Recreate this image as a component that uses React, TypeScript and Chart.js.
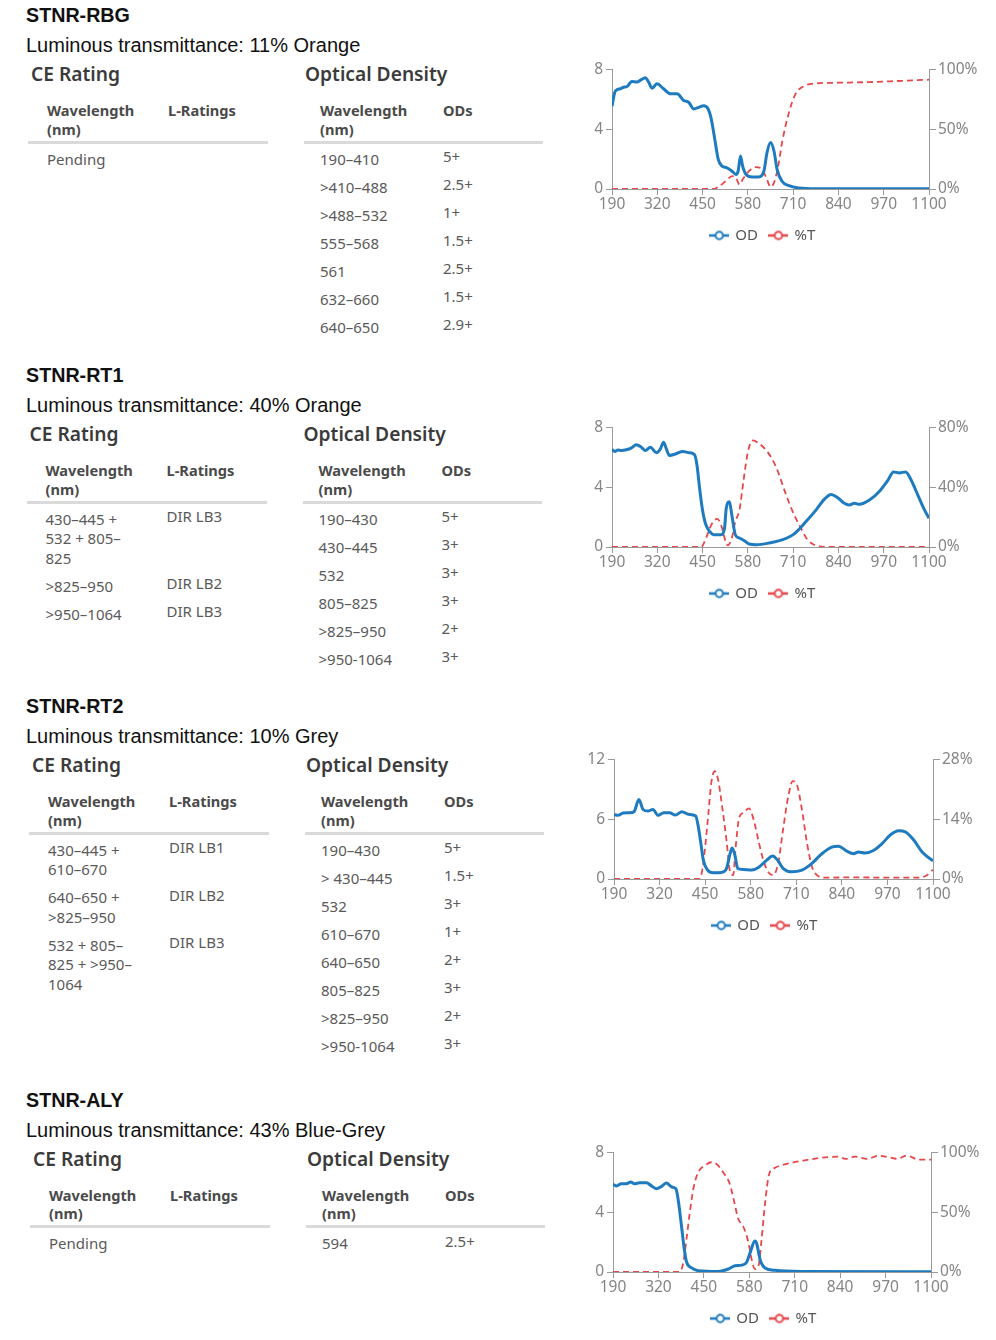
import React, { useEffect, useRef } from "react";
import { Chart, registerables } from "chart.js";

Chart.register(...registerables);

// ---------------- DATA ----------------
const xTickValues = [190, 320, 450, 580, 710, 840, 970, 1100];

// STNR-RBG
const rbgOdWavelengths = [190,198,204,214,223,233,247,262,271,286,295,305,319,338,358,377,396,410,425,439,453,466,475,485,495,506,520,535,546,552,559,565,575,592,611,626,635,645,655,664,678,698,726,784,900,1100];
const rbgOdValues = [5.53,6.47,6.63,6.7,6.8,6.85,7.19,7.15,7.26,7.44,7.15,6.74,7.03,6.7,6.36,6.36,5.91,5.8,5.35,5.46,5.57,5.35,4.67,3.33,1.98,1.53,1.42,1.19,0.97,1.19,2.2,1.53,0.97,0.81,0.81,1.19,2.43,3.1,2.54,1.3,0.52,0.22,0.07,0.02,0.01,0.01];
const rbgTWavelengths = [190,482,497,516,535,546,556,565,583,602,621,635,645,655,667,680,698,717,741,774,841,928,1023,1100];
const rbgTValues = [0,0,2.2,6.5,10.7,9.3,3.7,7.9,14.9,18.3,16.3,7.9,1.7,5.1,19.1,41.6,64,79.5,86,88.2,88.8,89.3,90.4,91.3];

// STNR-RT1
const rt1OdWavelengths = [190,198,207,217,231,245,260,274,286,300,317,329,338,346,355,374,393,412,427,434,441,449,458,470,484,503,513,518,527,534,544,556,570,584,603,642,680,713,747,776,800,819,838,857,871,886,900,929,958,982,998,1015,1033,1049,1068,1087,1100];
const rt1OdValues = [6.52,6.39,6.48,6.45,6.5,6.61,6.83,6.67,6.45,6.67,6.3,6.56,7.0,6.56,6.12,6.23,6.39,6.3,6.17,5.46,4.02,2.59,1.59,1.04,0.82,0.82,1.26,2.59,3.03,2.14,0.82,0.6,0.42,0.2,0.15,0.27,0.49,0.88,1.7,2.48,3.2,3.51,3.29,2.92,2.81,2.92,2.85,3.14,3.73,4.46,5.02,4.95,5.02,4.46,3.47,2.48,1.92];
const rt1TWavelengths = [190,446,460,475,492,503,516,522,534,544,556,567,580,594,613,637,661,690,713,735,751,776,804,1100];
const rt1TValues = [0,0,6,14.8,18.8,14.8,3.8,1.1,6,17,24.8,43.5,63.4,71.2,69,63.4,53.5,34.7,21.4,11.5,4.9,0.9,0,0];

// STNR-RT2
const rt2OdWavelengths = [190,201,216,235,247,261,273,287,301,316,332,349,365,384,402,423,430,438,445,457,473,497,511,521,527,535,543,559,583,602,625,643,657,673,697,726,754,783,811,830,854,873,887,906,930,954,978,1002,1021,1045,1069,1100];
const rt2OdValues = [6.48,6.38,6.61,6.64,6.74,7.96,6.97,6.81,6.97,6.38,6.64,6.64,6.41,6.74,6.48,6.31,5.33,3.52,1.87,0.89,0.62,0.66,1.05,2.53,3.12,2.37,1.05,0.95,0.89,1.15,1.87,2.3,1.87,1.05,0.72,0.89,1.55,2.53,3.19,3.29,2.79,2.53,2.7,2.6,2.86,3.52,4.41,4.83,4.73,3.91,2.7,1.81];
const rt2TWavelengths = [190,430,440,449,459,468,478,487,499,511,521,530,537,547,559,575,588,602,616,631,645,659,673,688,700,712,726,741,755,769,793,869,964,1059,1083,1100];
const rt2TValues = [0,0,1.3,6.7,15.1,22.8,25.2,23.2,16.6,9,1.7,0.9,7.4,14.3,15.5,16.5,14,9,4.4,1.5,0.9,4,12,19.7,22.9,22,16.3,8.2,2.8,0.9,0.3,0.4,0.3,0.3,0.9,2.2];

// STNR-ALY
const alyOdWavelengths = [190,200,214,228,241,252,266,286,298,314,329,343,358,370,376,384,393,400,415,434,491,520,539,558,572,582,596,601,611,625,654,730,1100];
const alyOdValues = [5.86,5.75,5.9,5.9,6.01,5.9,5.97,5.97,5.79,5.57,5.72,5.94,5.68,5.57,4.91,3.47,1.7,0.71,0.27,0.09,0.04,0.2,0.42,0.46,0.64,1.26,2.08,1.92,0.82,0.27,0.11,0.04,0.01];
const alyTWavelengths = [190,380,391,400,410,421,434,453,472,486,505,524,538,548,563,577,587,596,606,615,625,637,653,687,735,797,836,855,883,917,950,979,1003,1031,1065,1100];
const alyTValues = [0,0,7.5,26.8,50.3,71,83.4,88.9,91.7,90.3,83.4,73.7,57.2,44.7,37.8,25.4,10.2,2.5,4.7,26.8,57.2,82,87,90.3,93.1,95.8,96.4,94.5,96.4,94.5,97.2,95.8,94.5,97.2,93.9,93.9];

const odTicksEight = [0, 4, 8];
const odTicksTwelve = [0, 6, 12];
const tTicksHundred = [0, 50, 100];
const tTicksEighty = [0, 40, 80];
const tTicksTwentyEight = [0, 14, 28];

const seriesLabels = ["OD", "%T"];

// Text content
const sectionTitles = ["STNR-RBG", "STNR-RT1", "STNR-RT2", "STNR-ALY"];
const sectionSubtitles = [
  "Luminous transmittance: 11% Orange",
  "Luminous transmittance: 40% Orange",
  "Luminous transmittance: 10% Grey",
  "Luminous transmittance: 43% Blue-Grey",
];
const ceHeading = "CE Rating";
const odHeading = "Optical Density";
const wavelengthHeader = ["Wavelength", "(nm)"];
const lRatingsHeader = "L-Ratings";
const odsHeader = "ODs";

const ceWavelengthRows = [
  [["Pending"]],
  [["430–445 +", "532 + 805–", "825"], [">825–950"], [">950–1064"]],
  [["430–445 +", "610–670"], ["640–650 +", ">825–950"], ["532 + 805–", "825 + >950–", "1064"]],
  [["Pending"]],
];
const ceLRatings = [
  [""],
  ["DIR LB3", "DIR LB2", "DIR LB3"],
  ["DIR LB1", "DIR LB2", "DIR LB3"],
  [""],
];
const odWavelengthRows = [
  ["190–410", ">410–488", ">488–532", "555–568", "561", "632–660", "640–650"],
  ["190–430", "430–445", "532", "805–825", ">825–950", ">950-1064"],
  ["190–430", "> 430–445", "532", "610–670", "640–650", "805–825", ">825–950", ">950-1064"],
  ["594"],
];
const odRatingValues = [
  ["5+", "2.5+", "1+", "1.5+", "2.5+", "1.5+", "2.9+"],
  ["5+", "3+", "3+", "3+", "2+", "3+"],
  ["5+", "1.5+", "3+", "1+", "2+", "3+", "2+", "3+"],
  ["2.5+"],
];

const chartSpecs = [
  { odWl: rbgOdWavelengths, od: rbgOdValues, tWl: rbgTWavelengths, t: rbgTValues, odTicks: odTicksEight, tTicks: tTicksHundred },
  { odWl: rt1OdWavelengths, od: rt1OdValues, tWl: rt1TWavelengths, t: rt1TValues, odTicks: odTicksEight, tTicks: tTicksEighty },
  { odWl: rt2OdWavelengths, od: rt2OdValues, tWl: rt2TWavelengths, t: rt2TValues, odTicks: odTicksTwelve, tTicks: tTicksTwentyEight },
  { odWl: alyOdWavelengths, od: alyOdValues, tWl: alyTWavelengths, t: alyTValues, odTicks: odTicksEight, tTicks: tTicksHundred },
];

// ---------------- LAYOUT / STYLE ----------------
const sectionLayouts = [
  { top: 15, dx: 0 },
  { top: 375, dx: -1.5 },
  { top: 706, dx: 1 },
  { top: 1099.5, dx: 2 },
];
const chartBoxes = [
  { left: 612, top: 69, width: 317 },
  { left: 612, top: 427, width: 317 },
  { left: 614, top: 759, width: 319 },
  { left: 613, top: 1152, width: 318 },
];
const AREA_H = 120;
const LEFT_AXIS_W = 30;
const RIGHT_AXIS_W = 56;
const PAD_TOP = 12;
const X_AXIS_H = 27;
const LEGEND_PAD = 12;
const LEGEND_FONT = 15;
const LEGEND_H = LEGEND_FONT + LEGEND_PAD + 10;
const LEGEND_CENTER_OFFSET = 151;

const BLUE = "#1f7bc0";
const RED = "#e8474a";
const AXIS_GREY = "#9a9a9a";
const TICK_GREY = "#858585";
const UI_FONT = "'Noto Sans', 'Open Sans', sans-serif";
const HEAD_FONT = "'Liberation Sans', Arial, sans-serif";

const titleStyle: React.CSSProperties = { fontFamily: HEAD_FONT, fontWeight: 700, fontSize: 19.7, color: "#111" };
const subtitleStyle: React.CSSProperties = { fontFamily: HEAD_FONT, fontWeight: 400, fontSize: 20, color: "#111" };
const h2Style: React.CSSProperties = { fontFamily: UI_FONT, fontWeight: 600, fontSize: 19.2, color: "#3b3b3b" };
const headStyle: React.CSSProperties = { fontFamily: UI_FONT, fontWeight: 700, fontSize: 14.6, color: "#4a4a4a" };
const bodyStyle: React.CSSProperties = { fontFamily: UI_FONT, fontWeight: 400, fontSize: 15, color: "#5a5a5a" };

function Txt({ x, y, text, style }: { x: number; y: number; text: string; style: React.CSSProperties }) {
  return (
    <div style={{ position: "absolute", left: x, top: y - 10, lineHeight: "20px", whiteSpace: "nowrap", ...style }}>
      {text}
    </div>
  );
}

function SectionBlock({ idx }: { idx: number }) {
  const { top, dx } = sectionLayouts[idx];
  const els: React.ReactNode[] = [];
  els.push(<Txt key="t" x={26} y={top} text={sectionTitles[idx]} style={titleStyle} />);
  els.push(<Txt key="s" x={26} y={top + 30} text={sectionSubtitles[idx]} style={subtitleStyle} />);
  els.push(<Txt key="ce" x={31 + dx} y={top + 59} text={ceHeading} style={h2Style} />);
  els.push(<Txt key="od" x={305 + dx} y={top + 59} text={odHeading} style={h2Style} />);
  wavelengthHeader.forEach((ln, k) => {
    els.push(<Txt key={"hl" + k} x={47 + dx} y={top + 95 + k * 18.5} text={ln} style={headStyle} />);
    els.push(<Txt key={"hr" + k} x={320 + dx} y={top + 95 + k * 18.5} text={ln} style={headStyle} />);
  });
  els.push(<Txt key="lr" x={168 + dx} y={top + 95} text={lRatingsHeader} style={headStyle} />);
  els.push(<Txt key="ods" x={443 + dx} y={top + 95} text={odsHeader} style={headStyle} />);
  els.push(<div key="sepl" style={{ position: "absolute", left: 28 + dx, top: top + 125.5, width: 240, height: 3, background: "#dadada" }} />);
  els.push(<div key="sepr" style={{ position: "absolute", left: 304 + dx, top: top + 125.5, width: 239, height: 3, background: "#dadada" }} />);
  let y = top + 143.5;
  ceWavelengthRows[idx].forEach((lines, r) => {
    lines.forEach((ln, k) => {
      els.push(<Txt key={"cw" + r + "-" + k} x={47 + dx} y={y + k * 19.5} text={ln} style={bodyStyle} />);
    });
    const lr = ceLRatings[idx][r];
    if (lr) els.push(<Txt key={"cl" + r} x={168 + dx} y={y - 2.5} text={lr} style={bodyStyle} />);
    y += lines.length * 19.5 + 8.5;
  });
  odWavelengthRows[idx].forEach((w, r) => {
    const ry = top + 143.5 + r * 28;
    els.push(<Txt key={"ow" + r} x={320 + dx} y={ry} text={w} style={bodyStyle} />);
    els.push(<Txt key={"ov" + r} x={443 + dx} y={ry - 2.5} text={odRatingValues[idx][r]} style={bodyStyle} />);
  });
  return <>{els}</>;
}

function makeLegendIcon(color: string): HTMLCanvasElement {
  const c = document.createElement("canvas");
  c.width = 20;
  c.height = 12;
  const ctx = c.getContext("2d")!;
  ctx.strokeStyle = color;
  ctx.lineWidth = 2.5;
  ctx.beginPath();
  ctx.moveTo(0, 6);
  ctx.lineTo(20, 6);
  ctx.stroke();
  ctx.beginPath();
  ctx.arc(10, 6, 3.7, 0, Math.PI * 2);
  ctx.fillStyle = "#fff";
  ctx.fill();
  ctx.lineWidth = 2;
  ctx.stroke();
  return c;
}

const legendShift = {
  id: "legendShift",
  afterLayout(chart: any) {
    const lg = chart.legend;
    if (!lg) return;
    const desired = chart.chartArea.left + LEGEND_CENTER_OFFSET;
    const cur = (lg.left + lg.right) / 2;
    const d = desired - cur;
    lg.left += d;
    lg.right += d;
  },
};

function SpectrumChart({ idx }: { idx: number }) {
  const ref = useRef<HTMLCanvasElement | null>(null);
  const spec = chartSpecs[idx];
  const box = chartBoxes[idx];
  const W = LEFT_AXIS_W + box.width + RIGHT_AXIS_W;
  const H = PAD_TOP + AREA_H + X_AXIS_H + LEGEND_H;

  useEffect(() => {
    if (!ref.current) return;
    const icons = [makeLegendIcon(BLUE), makeLegendIcon(RED)];
    const tickFont = { family: UI_FONT, size: 15.5 };
    const chart = new Chart(ref.current, {
      type: "line",
      data: {
        datasets: [
          {
            label: seriesLabels[0],
            data: spec.odWl.map((w, i) => ({ x: w, y: spec.od[i] })),
            borderColor: BLUE,
            backgroundColor: BLUE,
            borderWidth: 3,
            pointRadius: 0,
            cubicInterpolationMode: "monotone",
            yAxisID: "y",
          },
          {
            label: seriesLabels[1],
            data: spec.tWl.map((w, i) => ({ x: w, y: spec.t[i] })),
            borderColor: RED,
            backgroundColor: RED,
            borderWidth: 1.8,
            borderDash: [6, 4],
            pointRadius: 0,
            cubicInterpolationMode: "monotone",
            yAxisID: "y1",
          },
        ],
      },
      options: {
        animation: false,
        responsive: false,
        maintainAspectRatio: false,
        layout: { padding: { top: PAD_TOP, left: 0, right: 0, bottom: 0 } },
        plugins: {
          tooltip: { enabled: false },
          legend: {
            display: true,
            position: "bottom",
            labels: {
              usePointStyle: true,
              pointStyleWidth: 17,
              padding: LEGEND_PAD,
              color: "#555",
              font: { family: UI_FONT, size: LEGEND_FONT },
              generateLabels: (ch: any) =>
                ch.data.datasets.map((ds: any, i: number) => ({
                  text: ds.label,
                  pointStyle: icons[i],
                  fillStyle: "transparent",
                  strokeStyle: "transparent",
                  lineWidth: 0,
                  hidden: false,
                  datasetIndex: i,
                  fontColor: "#555",
                })),
            },
          },
        },
        scales: {
          x: {
            type: "linear",
            min: xTickValues[0],
            max: xTickValues[xTickValues.length - 1],
            afterBuildTicks: (s: any) => {
              s.ticks = xTickValues.map((v) => ({ value: v }));
            },
            afterFit: (s: any) => {
              s.height = X_AXIS_H;
            },
            grid: { display: true, drawOnChartArea: false, drawTicks: true, tickLength: 6, color: AXIS_GREY },
            border: { display: true, color: AXIS_GREY, width: 1 },
            ticks: {
              padding: 0,
              color: TICK_GREY,
              font: tickFont,
              maxRotation: 0,
              autoSkip: false,
              callback: (v: any) => String(v),
            },
          },
          y: {
            type: "linear",
            position: "left",
            min: spec.odTicks[0],
            max: spec.odTicks[spec.odTicks.length - 1],
            afterBuildTicks: (s: any) => {
              s.ticks = spec.odTicks.map((v) => ({ value: v }));
            },
            afterFit: (s: any) => {
              s.width = LEFT_AXIS_W;
            },
            grid: { drawOnChartArea: false, drawTicks: true, tickLength: 6, color: AXIS_GREY },
            border: { display: true, color: AXIS_GREY, width: 1 },
            ticks: { padding: 3, color: TICK_GREY, font: tickFont, callback: (v: any) => String(v) },
          },
          y1: {
            type: "linear",
            position: "right",
            min: spec.tTicks[0],
            max: spec.tTicks[spec.tTicks.length - 1],
            afterBuildTicks: (s: any) => {
              s.ticks = spec.tTicks.map((v) => ({ value: v }));
            },
            afterFit: (s: any) => {
              s.width = RIGHT_AXIS_W;
            },
            grid: { drawOnChartArea: false, drawTicks: true, tickLength: 7, color: AXIS_GREY },
            border: { display: true, color: AXIS_GREY, width: 1 },
            ticks: { padding: 2, color: TICK_GREY, font: tickFont, callback: (v: any) => v + "%" },
          },
        },
      } as any,
      plugins: [legendShift],
    } as any);
    return () => chart.destroy();
  }, [idx]);

  return (
    <canvas
      ref={ref}
      width={W}
      height={H}
      style={{ position: "absolute", left: box.left - LEFT_AXIS_W, top: box.top - PAD_TOP, width: W, height: H }}
    />
  );
}

export default function App() {
  return (
    <div style={{ position: "absolute", left: 0, top: 0, width: 996, height: 1340, background: "#fff", overflow: "hidden" }}>
      {sectionTitles.map((_, i) => (
        <SectionBlock key={"s" + i} idx={i} />
      ))}
      {chartSpecs.map((_, i) => (
        <SpectrumChart key={"c" + i} idx={i} />
      ))}
    </div>
  );
}
